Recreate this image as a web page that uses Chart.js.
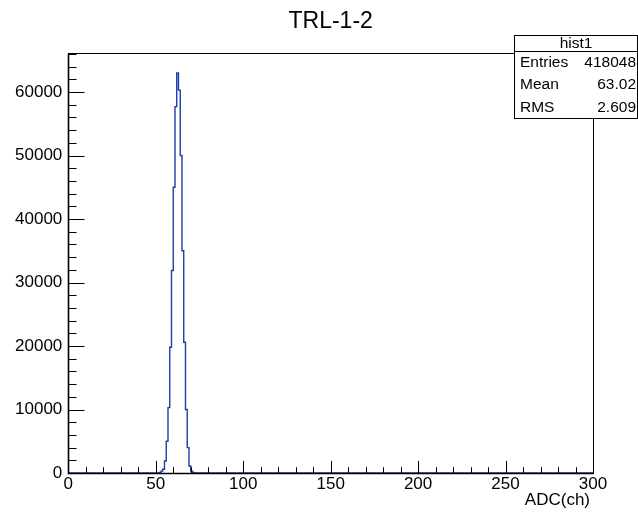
<!DOCTYPE html>
<html>
<head>
<meta charset="utf-8">
<script src="https://cdn.jsdelivr.net/npm/chart.js@4/dist/chart.umd.min.js"></script>
<style>
  html, body { margin: 0; padding: 0; background: #fff; }
  canvas { display: block; }
</style>
</head>
<body>
<canvas id="hist" width="638" height="513"></canvas>
<script>
// histogram hist1 : 300 bins of width 1 over ADC 0..300
const nBins = 300;
const firstBin = 53;
const counts = [80, 300, 600, 1900, 5000, 10300, 19800, 31900, 45000, 57700,
                63000, 60300, 50000, 35000, 20600, 10000, 4000, 1100, 300, 80];
const xMajor = [0, 50, 100, 150, 200, 250, 300];
const yMajor = [0, 10000, 20000, 30000, 40000, 50000, 60000];
const xMinorStep = 10;
const yMinorStep = 2000;
const yMax = 66150;
const statLabels = ["Entries", "Mean", "RMS"];
const statValues = ["418048", "63.02", "2.609"];
const histName = "hist1";
const titleText = "TRL-1-2";
const xTitle = "ADC(ch)";

const FONT = '"Liberation Sans", Arial, sans-serif';

// bin edges -> step points
let points = [];
for (let k = 0; k < nBins; k++) {
  let i = k - firstBin;
  let v = (i >= 0 && i < counts.length) ? counts[i] : 0;
  points.push({ x: k, y: v });
}
points.push({ x: nBins, y: 0 });

function tickList(step, max) {
  let t = [];
  for (let v = 0; v <= max; v += step) t.push({ value: v });
  return t;
}

const rootFrame = {
  id: 'rootFrame',
  afterDatasetsDraw(chart) {
    const ctx = chart.ctx;
    const a = chart.chartArea;
    const xs = chart.scales.x, ys = chart.scales.y;
    const L = Math.round(a.left) + 0.5, R = Math.round(a.right) + 0.5;
    const T = Math.round(a.top) + 0.5, B = Math.round(a.bottom) + 0.5;
    ctx.save();
    ctx.strokeStyle = '#000';
    ctx.lineWidth = 1;
    ctx.strokeRect(L, T, R - L, B - T);
    // axes drawn over the histogram outline
    ctx.lineWidth = 1.6;
    ctx.beginPath();
    ctx.moveTo(L, T);
    ctx.lineTo(L, B);
    ctx.lineTo(R, B);
    ctx.stroke();
    // inward ticks
    ctx.lineWidth = 1;
    ctx.beginPath();
    xs.ticks.forEach(t => {
      let px = Math.round(xs.getPixelForValue(t.value)) + 0.5;
      let len = xMajor.includes(t.value) ? 12.6 : 6.3;
      ctx.moveTo(px, B);
      ctx.lineTo(px, B - len);
    });
    ys.ticks.forEach(t => {
      let py = Math.round(ys.getPixelForValue(t.value)) + 0.5;
      let len = yMajor.includes(t.value) ? 16 : 8;
      ctx.moveTo(L, py);
      ctx.lineTo(L + len, py);
    });
    ctx.stroke();

    // title
    ctx.fillStyle = '#000';
    ctx.font = '23px ' + FONT;
    ctx.textAlign = 'center';
    ctx.textBaseline = 'alphabetic';
    ctx.fillText(titleText, (a.left + a.right) / 2, 27.5);

    // x axis title
    ctx.font = '17px ' + FONT;
    ctx.textAlign = 'right';
    ctx.fillText(xTitle, a.right - 3, 505);

    // stats box
    const bx = 514.5, by = 35.5, bw = 123, bh = 83;
    ctx.fillStyle = '#fff';
    ctx.fillRect(bx, by, bw, bh);
    ctx.strokeRect(bx, by, bw, bh);
    ctx.beginPath();
    ctx.moveTo(bx, 51.5);
    ctx.lineTo(bx + bw, 51.5);
    ctx.stroke();
    ctx.fillStyle = '#000';
    ctx.font = '15.5px ' + FONT;
    ctx.textBaseline = 'middle';
    ctx.textAlign = 'center';
    ctx.fillText(histName, bx + bw / 2, 43.5);
    statLabels.forEach((lab, i) => {
      let cy = 63 + i * 22.2;
      ctx.textAlign = 'left';
      ctx.fillText(lab, 520, cy);
      ctx.textAlign = 'right';
      ctx.fillText(statValues[i], 636, cy);
    });
    ctx.restore();
  }
};

new Chart(document.getElementById('hist'), {
  type: 'line',
  data: {
    datasets: [{
      label: histName,
      data: points,
      stepped: 'after',
      borderColor: '#1d3ca8',
      borderWidth: 1.4,
      pointRadius: 0,
      fill: false
    }]
  },
  options: {
    responsive: false,
    animation: false,
    layout: { padding: { left: 0, right: 45, top: 53, bottom: 0 } },
    plugins: {
      legend: { display: false },
      title: { display: false },
      tooltip: { enabled: false }
    },
    scales: {
      x: {
        type: 'linear',
        min: 0, max: nBins,
        grid: { display: false, drawTicks: false },
        border: { display: false },
        afterBuildTicks(scale) { scale.ticks = tickList(xMinorStep, nBins); },
        afterFit(scale) { scale.height = 40; },
        ticks: {
          autoSkip: false,
          maxRotation: 0,
          padding: 1,
          color: '#000',
          font: { family: FONT, size: 17 },
          callback: v => (xMajor.includes(v) ? v : '')
        }
      },
      y: {
        min: 0, max: yMax,
        grid: { display: false, drawTicks: false },
        border: { display: false },
        afterBuildTicks(scale) { scale.ticks = tickList(yMinorStep, yMax); },
        afterFit(scale) { scale.width = 68.3; },
        ticks: {
          autoSkip: false,
          padding: 6,
          color: '#000',
          font: { family: FONT, size: 17 },
          callback: v => (yMajor.includes(v) ? v : '')
        }
      }
    }
  },
  plugins: [rootFrame]
});
</script>
</body>
</html>
